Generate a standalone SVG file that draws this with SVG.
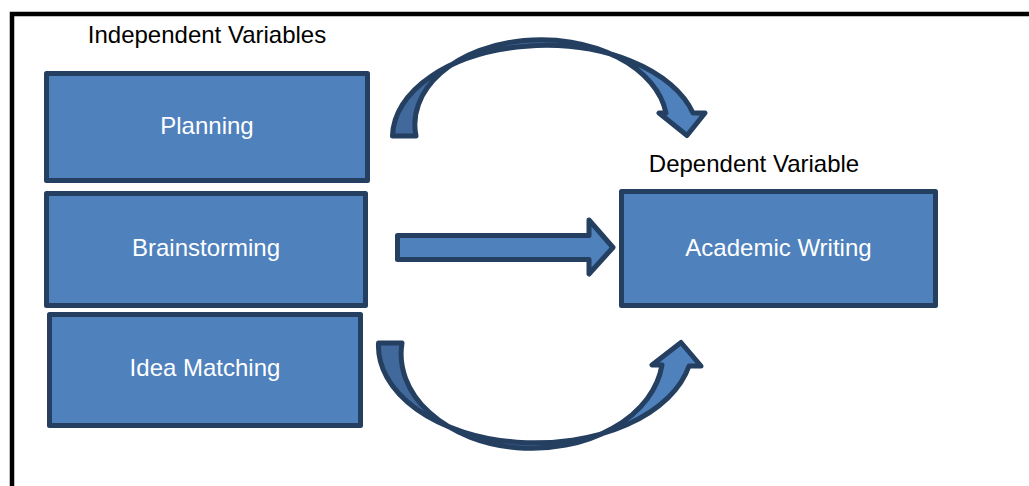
<svg xmlns="http://www.w3.org/2000/svg" width="1029" height="486" viewBox="0 0 1029 486">
<style>
  .box { fill: #4F81BD; stroke: #243F60; stroke-width: 5; stroke-linejoin: round; }
  .arrow { stroke: #243F60; stroke-width: 5; stroke-linejoin: round; }
  .lbl { font-family: "Liberation Sans", Arial, sans-serif; font-size: 24px; fill: #FFFFFF; text-anchor: middle; }
  .hdr { font-family: "Liberation Sans", Arial, sans-serif; font-size: 24px; fill: #000000; text-anchor: middle; }
</style>
<defs>
  <linearGradient id="gTop" gradientUnits="userSpaceOnUse" x1="390" y1="0" x2="707" y2="0">
    <stop offset="0" stop-color="#41699C"/>
    <stop offset="0.45" stop-color="#41699C"/>
    <stop offset="0.62" stop-color="#4F81BD"/>
    <stop offset="1" stop-color="#4F81BD"/>
  </linearGradient>
  <linearGradient id="gBot" gradientUnits="userSpaceOnUse" x1="376" y1="0" x2="703" y2="0">
    <stop offset="0" stop-color="#41699C"/>
    <stop offset="0.45" stop-color="#41699C"/>
    <stop offset="0.6" stop-color="#4F81BD"/>
    <stop offset="1" stop-color="#4F81BD"/>
  </linearGradient>
</defs>
<rect x="12" y="14" width="1100" height="600" fill="#FFFFFF" stroke="#000000" stroke-width="4.5"/>
<text class="hdr" x="207" y="43">Independent Variables</text>
<text class="hdr" x="754" y="172">Dependent Variable</text>
<g id="planning">
  <rect class="box" x="46.5" y="73.5" width="321" height="107"/>
  <text class="lbl" x="207" y="134">Planning</text>
</g>
<g id="brainstorming">
  <rect class="box" x="46.5" y="193.5" width="319" height="112"/>
  <text class="lbl" x="206" y="256">Brainstorming</text>
</g>
<g id="idea-matching">
  <rect class="box" x="49.5" y="314.5" width="311" height="111"/>
  <text class="lbl" x="205" y="376">Idea Matching</text>
</g>
<g id="academic-writing">
  <rect class="box" x="621.5" y="191.5" width="314" height="114"/>
  <text class="lbl" x="778.5" y="256">Academic Writing</text>
</g>
<g id="connectors">
  <path class="arrow" fill="url(#gTop)" d="M392.5,136 A153,92 0 0 1 693,113 L705,113 L687,135.5 L659,113 L666,113 A125,84 0 0 0 416,136 Z"/>
  <path class="arrow" fill="#4F81BD" d="M397.5,235.5 L589,235.5 L589,220 L613,247.5 L589,274 L589,259.5 L397.5,259.5 Z"/>
  <path class="arrow" fill="url(#gBot)" d="M378.5,343 A157,97 0 0 0 689,366 L701,366 L681,342.5 L652,365 L662,365 A129,93 0 0 1 402,343 Z"/>
</g>
</svg>
